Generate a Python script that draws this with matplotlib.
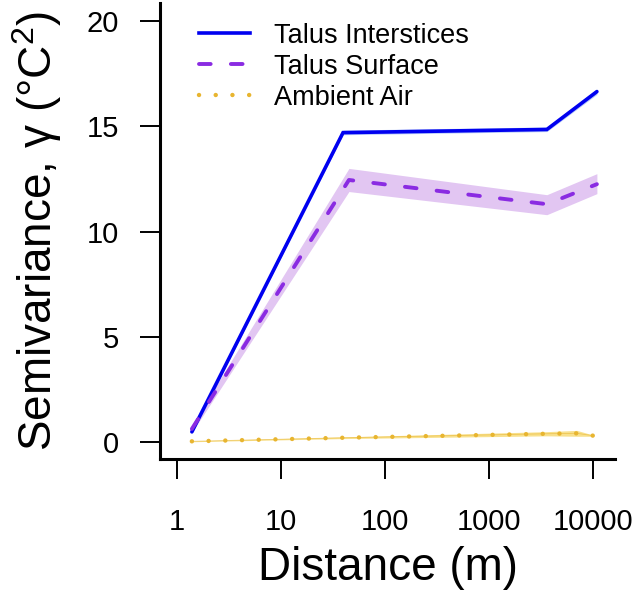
import matplotlib
matplotlib.use("Agg")
import matplotlib.pyplot as plt
from matplotlib.lines import Line2D

plt.rcParams['font.family'] = ['Liberation Sans', 'DejaVu Sans']
plt.rcParams['mathtext.fontset'] = 'custom'
plt.rcParams['mathtext.rm'] = 'Liberation Sans'
plt.rcParams['mathtext.it'] = 'Liberation Sans'
plt.rcParams['mathtext.default'] = 'regular'

# Data
inter_x = [1.39, 39.5, 3600, 10900]
inter_y = [0.48, 14.70, 14.85, 16.65]
inter_lo = [0.40, 14.60, 14.75, 16.52]
inter_hi = [0.56, 14.82, 14.97, 16.78]

surf_x = [1.39, 45, 3600, 10900]
surf_y = [0.62, 12.45, 11.30, 12.25]
surf_lo = [0.45, 11.90, 10.80, 11.80]
surf_hi = [0.80, 13.00, 11.75, 12.75]

air_x = [1.39, 40, 3600, 7000, 10000]
air_y = [0.03, 0.20, 0.39, 0.41, 0.30]
air_lo = [0.01, 0.16, 0.29, 0.27, 0.27]
air_hi = [0.05, 0.24, 0.49, 0.55, 0.33]

labels = ["Talus Interstices", "Talus Surface", "Ambient Air"]
xticks = [1, 10, 100, 1000, 10000]
xticklabels = ["1", "10", "100", "1000", "10000"]
yticks = [0, 5, 10, 15, 20]

c_inter = "#0000F0"
c_surf = "#8A2BE2"
c_air = "#E8B530"

fig = plt.figure(figsize=(6.37, 6.04), dpi=100)
ax = fig.add_axes([160/637, 145/604, 455/637, 456/604])
ax.set_xscale('log')
ax.set_xlim(10**-0.1635, 10**4.2115)
ax.set_ylim(-0.81, 20.86)

ax.fill_between(inter_x, inter_lo, inter_hi, color="#B8CCF8", lw=0, zorder=1)
ax.fill_between(surf_x, surf_lo, surf_hi, color="#E2C6F2", lw=0, zorder=1)
ax.fill_between(air_x, air_lo, air_hi, color="#F8E08C", lw=0, zorder=1)

surf_dash = (3.0, 5.2)
air_dash = (0.01, 3.75)

ax.plot(inter_x, inter_y, color=c_inter, lw=2.6, solid_capstyle='round',
        solid_joinstyle='miter', zorder=3)
ax.plot(surf_x, surf_y, color=c_surf, lw=2.8, dashes=surf_dash,
        dash_capstyle='round', zorder=3)
ax.plot(air_x, air_y, color=c_air, lw=0.6, alpha=0.6, zorder=2)
ax.plot(air_x, air_y, color=c_air, lw=3.2, dashes=air_dash,
        dash_capstyle='round', zorder=3)

for s in ['top', 'right']:
    ax.spines[s].set_visible(False)
for s in ['left', 'bottom']:
    ax.spines[s].set_linewidth(2.2)
    ax.spines[s].set_capstyle('projecting')

ax.set_xticks(xticks)
ax.set_xticklabels(xticklabels)
ax.minorticks_off()
ax.set_yticks(yticks)
ax.tick_params(axis='both', direction='out', length=14.5, width=1.4,
               labelsize=21)
ax.tick_params(axis='x', pad=21)
ax.tick_params(axis='y', pad=15)

ax.set_xlabel("Distance (m)", fontsize=33, labelpad=7)
ax.set_ylabel("Semivariance, γ (°C$^2$)", fontsize=33, labelpad=16)

handles = [
    Line2D([], [], color=c_inter, lw=2.6),
    Line2D([], [], color=c_surf, lw=2.8, dashes=surf_dash, dash_capstyle='round'),
    Line2D([], [], color=c_air, lw=3.2, dashes=air_dash, dash_capstyle='round'),
]
leg = ax.legend(handles, labels, loc='upper left', bbox_to_anchor=(0.062, 0.98),
                frameon=False, fontsize=19.5, handlelength=1.89, handletextpad=0.89,
                labelspacing=0.18, borderaxespad=0)

fig.savefig("out.png", dpi=100)
